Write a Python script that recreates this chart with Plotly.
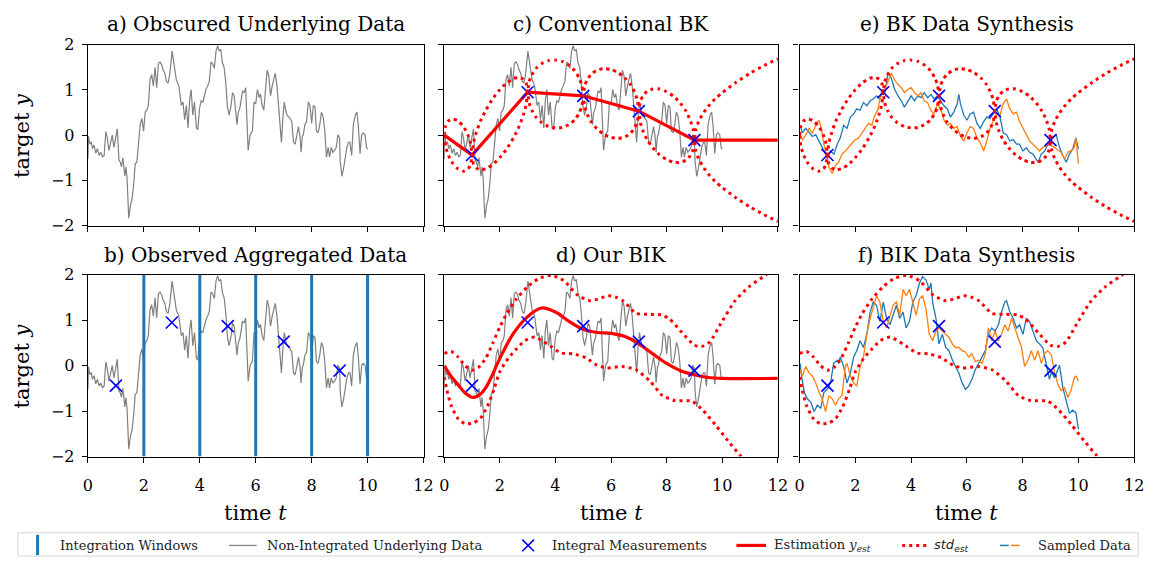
import numpy as np
import plotly.graph_objects as go

W, H = 1160, 568
FONT = "DejaVu Serif"

# ---------------- data ----------------
gray_t = [0.0, 0.02, 0.07, 0.12, 0.16, 0.22, 0.28, 0.34, 0.4, 0.46, 0.52, 0.58, 0.64, 0.69, 0.75, 0.81,
          0.87, 0.93, 0.99, 1.05, 1.11, 1.16, 1.2, 1.25, 1.32, 1.36, 1.4, 1.46, 1.52, 1.58, 1.64, 1.69,
          1.75, 1.81, 1.87, 1.93, 1.99, 2.05, 2.11, 2.16, 2.22, 2.28, 2.34, 2.4, 2.46, 2.52, 2.58, 2.64,
          2.69, 2.75, 2.81, 2.87, 2.93, 3.01, 3.08, 3.16, 3.25, 3.34, 3.4, 3.46, 3.52, 3.58, 3.64, 3.69,
          3.75, 3.81, 3.88, 3.93, 3.99, 4.05, 4.11, 4.16, 4.22, 4.28, 4.34, 4.4, 4.46, 4.52, 4.58, 4.64,
          4.69, 4.75, 4.81, 4.87, 4.93, 4.99, 5.05, 5.12, 5.17, 5.23, 5.29, 5.33, 5.37, 5.44, 5.53, 5.59,
          5.64, 5.68, 5.73, 5.8, 5.88, 5.94, 6.0, 6.06, 6.12, 6.17, 6.23, 6.29, 6.35, 6.41, 6.47, 6.53,
          6.59, 6.64, 6.7, 6.76, 6.82, 6.88, 6.92, 6.97, 7.02, 7.07, 7.12, 7.17, 7.23, 7.29, 7.35, 7.41,
          7.47, 7.53, 7.59, 7.62, 7.67, 7.7, 7.76, 7.82, 7.88, 7.94, 8.0, 8.06, 8.12, 8.17, 8.23, 8.29,
          8.35, 8.41, 8.47, 8.53, 8.59, 8.64, 8.7, 8.76, 8.82, 8.88, 8.94, 9.0, 9.02, 9.08, 9.14, 9.2,
          9.26, 9.32, 9.37, 9.43, 9.49, 9.56, 9.62, 9.67, 9.73, 9.79, 9.84, 9.91, 9.96, 10.0]
gray_y = [-0.52, -0.02, -0.2, -0.15, -0.3, -0.22, -0.4, -0.3, -0.45, -0.38, -0.48, -0.45, 0.08, -0.05, -0.34, -0.15,
          0.0, -0.27, -0.1, 0.14, -0.56, -0.6, -0.7, -0.5, -0.91, -0.7, -0.96, -1.84, -1.56, -1.41, -1.06, -0.63,
          -0.6, -0.2, 0.23, 0.37, 0.09, 0.51, 0.55, 0.66, 1.23, 1.34, 1.09, 1.5, 1.05, 1.59, 1.62, 1.55,
          1.44, 1.37, 1.19, 1.15, 1.37, 1.86, 1.58, 1.23, 1.09, 0.66, 0.73, 0.34, 0.66, 0.16, 0.8, 1.01,
          0.44, 0.73, 0.16, 0.12, 0.59, 0.76, 0.73, 0.87, 1.01, 1.09, 1.19, 1.62, 1.58, 1.48, 1.86, 1.98,
          1.86, 1.9, 1.6, 1.5, 1.16, 0.62, 0.44, 0.66, 0.94, 0.87, 0.51, 0.23, 0.48, 0.62, 0.98, 0.94,
          1.05, 0.3, -0.34, 0.01, 0.09, 0.73, 0.69, 1.01, 0.83, 0.91, 0.66, 0.55, 1.09, 1.44, 1.3, 0.87,
          1.09, 1.23, 1.37, 1.09, 0.59, 0.16, -0.16, 0.37, 0.73, 0.55, 0.44, 0.41, 0.37, 0.3, -0.16, -0.2,
          0.01, 0.19, -0.06, -0.38, -0.02, 0.01, 0.23, 0.3, 0.73, 0.66, 0.26, 0.66, 0.62, 0.09, 0.05, 0.23,
          0.51, 0.41, 0.09, -0.49, -0.27, -0.49, -0.27, -0.38, -0.34, -0.27, 0.01, -0.06, -0.56, -0.91, -0.74, -0.52,
          -0.27, -0.16, -0.16, -0.45, 0.23, 0.44, 0.51, 0.19, -0.41, 0.01, 0.05, 0.01, -0.27, -0.31]

window_t = [2, 4, 6, 8, 10]

meas_t = [1, 3, 5, 7, 9]
meas_y = [-0.44, 0.95, 0.87, 0.53, -0.11]

# conventional BK: piecewise-linear estimate and its standard deviation
bk_knot_t = [0, 1, 3, 5, 7, 9, 12]
bk_knot_y = [0, -0.44, 0.95, 0.87, 0.53, -0.11, -0.11]
bk_std_t = [0, 0.05, 0.15, 0.3, 0.5, 0.7, 0.85, 0.95,
            1, 1.05, 1.15, 1.3, 1.5, 1.75, 2, 2.25, 2.5, 2.7, 2.85, 2.95,
            3, 3.05, 3.15, 3.3, 3.5, 3.75, 4, 4.25, 4.5, 4.7, 4.85, 4.95,
            5, 5.05, 5.15, 5.3, 5.5, 5.75, 6, 6.25, 6.5, 6.7, 6.85, 6.95,
            7, 7.05, 7.15, 7.3, 7.5, 7.75, 8, 8.25, 8.5, 8.7, 8.85, 8.95,
            9, 9.05, 9.15, 9.3, 9.5, 9.75, 10, 10.5, 11, 11.5, 12]
bk_std = [0, 0.23, 0.38, 0.49, 0.53, 0.49, 0.38, 0.23,
          0, 0.23, 0.39, 0.54, 0.65, 0.73, 0.75, 0.73, 0.65, 0.54, 0.39, 0.23,
          0, 0.23, 0.39, 0.54, 0.65, 0.73, 0.75, 0.73, 0.65, 0.54, 0.39, 0.23,
          0, 0.23, 0.39, 0.54, 0.65, 0.73, 0.75, 0.73, 0.65, 0.54, 0.39, 0.23,
          0, 0.23, 0.39, 0.54, 0.65, 0.73, 0.75, 0.73, 0.65, 0.54, 0.39, 0.23,
          0, 0.24, 0.41, 0.58, 0.75, 0.92, 1.05, 1.28, 1.48, 1.65, 1.8]

# our BIK: smooth estimate and its std envelope
bik_t = [0, 0.25, 0.5, 0.75, 1.05, 1.3, 1.5, 1.75, 2.0, 2.5, 3.0, 3.5, 4.0, 4.5, 5.0, 5.5,
         6.0, 6.5, 7.0, 7.5, 8.0, 8.5, 9.0, 9.5, 10.0, 12.0]
bik_y = [0, -0.24, -0.42, -0.6, -0.7, -0.63, -0.48, -0.18, 0.16, 0.72, 1.08, 1.27, 1.18, 0.97, 0.8, 0.73,
         0.71, 0.64, 0.48, 0.26, 0.05, -0.11, -0.2, -0.26, -0.28, -0.28]
bik_up_t = [0.0, 0.25, 0.5, 0.75, 1.0, 1.25, 1.5, 1.75, 2.0, 2.25, 2.6, 3.0, 3.4, 3.85, 4.3, 4.8,
            5.25, 5.6, 5.9, 6.2, 6.45, 6.9, 7.4, 7.8, 8.1, 8.55, 9.0, 9.25, 9.55, 9.95, 10.45, 10.95,
            11.5, 12.0]
bik_up = [0.27, 0.31, 0.19, 0.0, -0.1, -0.03, 0.17, 0.5, 0.85, 1.15, 1.47, 1.74, 1.92, 1.99, 1.87, 1.55,
          1.43, 1.48, 1.54, 1.5, 1.42, 1.15, 1.13, 1.12, 1.03, 0.73, 0.45, 0.42, 0.52, 0.93, 1.42, 1.73,
          1.97, 2.2]
bik_lo_t = [0.0, 0.1, 0.25, 0.5, 0.75, 1.05, 1.3, 1.55, 1.8, 2.0, 2.3, 2.6, 2.9, 3.25, 3.7, 4.2,
            4.65, 5.1, 5.5, 5.85, 6.4, 6.9, 7.4, 7.85, 8.3, 8.9, 9.3, 9.75, 10.2, 10.65, 11.3, 12.0]
bik_lo = [-0.25, -0.55, -0.88, -1.17, -1.28, -1.26, -1.16, -0.9, -0.5, -0.13, 0.16, 0.37, 0.55, 0.63, 0.48, 0.28,
          0.26, 0.17, 0.01, -0.05, -0.02, -0.09, -0.34, -0.66, -0.77, -0.78, -0.98, -1.3, -1.65, -1.98, -2.4, -2.8]

# synthesised samples (BK)
e_blue_t = [0.02, 0.1, 0.22, 0.34, 0.46, 0.58, 0.7, 0.81, 0.93, 1.0, 1.11, 1.23, 1.35, 1.46, 1.58, 1.7,
            1.82, 1.94, 2.05, 2.17, 2.29, 2.41, 2.53, 2.64, 2.76, 2.88, 2.97, 3.06, 3.17, 3.29, 3.41, 3.53,
            3.65, 3.76, 3.88, 4.0, 4.12, 4.24, 4.35, 4.47, 4.59, 4.71, 4.82, 4.94, 5.06, 5.18, 5.3, 5.41,
            5.53, 5.65, 5.71, 5.77, 5.89, 6.0, 6.12, 6.24, 6.36, 6.48, 6.6, 6.71, 6.83, 6.95, 7.07, 7.19,
            7.3, 7.42, 7.54, 7.66, 7.78, 7.89, 8.01, 8.13, 8.25, 8.37, 8.44, 8.55, 8.67, 8.79, 8.91, 9.03,
            9.2, 9.32, 9.44, 9.56, 9.68, 9.79, 9.91, 10.0]
e_blue_y = [0.22, 0.05, 0.15, 0.05, -0.03, 0.01, -0.13, -0.27, -0.42, -0.52, -0.35, -0.42, -0.2, -0.06, 0.22, 0.15,
            0.4, 0.47, 0.58, 0.55, 0.72, 0.65, 0.76, 0.8, 0.87, 0.8, 1.01, 0.94, 1.37, 1.26, 1.01, 0.87,
            0.76, 0.62, 0.76, 0.87, 0.76, 0.87, 0.83, 0.94, 0.83, 0.9, 0.8, 0.87, 0.76, 0.65, 0.58, 0.4,
            0.51, 0.69, 0.9, 0.69, 0.44, 0.33, 0.47, 0.51, 0.26, 0.15, 0.3, 0.4, 0.37, 0.47, 0.58, 0.4,
            0.05, 0.01, -0.13, -0.1, -0.2, -0.2, -0.35, -0.28, -0.38, -0.42, -0.49, -0.6, -0.42, -0.35, -0.2, -0.06,
            0.01, -0.27, -0.45, -0.6, -0.42, -0.31, -0.06, -0.31]
e_orange_t = [0.02, 0.1, 0.22, 0.34, 0.46, 0.58, 0.7, 0.78, 0.87, 0.97, 1.05, 1.17, 1.29, 1.4, 1.52, 1.64,
              1.76, 1.88, 2.0, 2.11, 2.23, 2.35, 2.47, 2.59, 2.7, 2.82, 2.88, 2.97, 3.06, 3.17, 3.29, 3.41,
              3.53, 3.65, 3.76, 3.88, 4.0, 4.12, 4.24, 4.35, 4.47, 4.59, 4.71, 4.82, 4.94, 5.06, 5.18, 5.3,
              5.41, 5.53, 5.65, 5.77, 5.89, 6.0, 6.12, 6.24, 6.36, 6.48, 6.6, 6.71, 6.83, 6.95, 7.07, 7.19,
              7.3, 7.42, 7.54, 7.66, 7.78, 7.89, 8.01, 8.13, 8.25, 8.37, 8.49, 8.6, 8.72, 8.84, 8.91, 9.03,
              9.14, 9.26, 9.38, 9.5, 9.62, 9.73, 9.85, 9.91, 10.0]
e_orange_y = [0.01, -0.1, 0.0, 0.15, 0.04, 0.22, 0.33, 0.15, -0.2, -0.49, -0.7, -0.85, -0.67, -0.6, -0.42, -0.35,
              -0.27, -0.2, -0.1, -0.07, 0.05, 0.15, 0.26, 0.22, 0.44, 0.58, 0.8, 0.94, 1.01, 1.19, 1.37, 1.22,
              1.12, 1.05, 0.94, 1.01, 1.05, 0.94, 0.87, 0.94, 0.76, 0.72, 0.55, 0.47, 0.69, 0.58, 0.33, 0.22,
              0.26, 0.15, 0.19, -0.03, -0.13, 0.05, 0.19, 0.15, -0.06, -0.17, -0.35, -0.13, 0.15, 0.33, 0.47, 0.44,
              0.69, 0.8, 0.58, 0.47, 0.51, 0.3, 0.15, 0.01, -0.13, -0.2, -0.27, -0.35, -0.27, -0.24, -0.2, -0.24,
              -0.27, -0.33, -0.38, -0.53, -0.38, -0.35, -0.27, -0.06, -0.63]

# synthesised samples (BIK)
f_blue_t = [0.02, 0.07, 0.17, 0.28, 0.4, 0.52, 0.64, 0.76, 0.87, 0.99, 1.11, 1.22, 1.35, 1.4, 1.46, 1.58,
            1.7, 1.82, 1.94, 2.05, 2.17, 2.29, 2.41, 2.53, 2.64, 2.76, 2.88, 3.0, 3.12, 3.24, 3.35, 3.47,
            3.59, 3.71, 3.82, 3.94, 4.06, 4.18, 4.3, 4.41, 4.53, 4.65, 4.71, 4.77, 4.89, 5.0, 5.12, 5.24,
            5.36, 5.48, 5.59, 5.71, 5.83, 5.95, 6.06, 6.18, 6.3, 6.42, 6.54, 6.66, 6.77, 6.89, 7.01, 7.13,
            7.24, 7.36, 7.42, 7.54, 7.66, 7.78, 7.89, 8.01, 8.13, 8.25, 8.37, 8.49, 8.6, 8.72, 8.84, 8.96,
            9.03, 9.14, 9.32, 9.44, 9.56, 9.68, 9.79, 9.91, 10.0]
f_blue_y = [0.05, -0.23, -0.59, -0.73, -0.8, -1.01, -0.87, -0.94, -0.59, -0.52, -0.38, 0.05, 0.12, 0.05, 0.19, -0.02,
            -0.38, -0.16, 0.19, 0.33, 0.55, 0.4, 0.69, 1.18, 1.4, 1.33, 0.97, 1.4, 1.04, 0.9, 1.11, 1.33,
            1.04, 1.18, 0.83, 0.97, 1.4, 1.54, 1.82, 1.96, 1.89, 1.68, 1.82, 1.4, 1.04, 0.48, 0.69, 0.4,
            0.33, 0.12, -0.02, -0.16, -0.38, -0.52, -0.45, -0.3, -0.09, 0.05, 0.19, 0.33, 0.69, 0.83, 0.76, 0.9,
            1.18, 1.4, 1.43, 1.18, 1.04, 0.83, 0.9, 0.69, 1.04, 0.97, 0.76, 0.55, 0.48, 0.4, 0.05, -0.3,
            -0.13, -0.27, 0.01, -0.48, -0.77, -1.05, -0.98, -1.04, -1.4]
f_orange_t = [0.02, 0.1, 0.22, 0.34, 0.46, 0.58, 0.7, 0.81, 0.93, 1.05, 1.17, 1.29, 1.4, 1.52, 1.64, 1.7,
              1.82, 1.94, 2.05, 2.17, 2.29, 2.41, 2.53, 2.64, 2.76, 2.88, 3.0, 3.12, 3.24, 3.35, 3.47, 3.59,
              3.71, 3.82, 3.94, 4.06, 4.18, 4.3, 4.41, 4.53, 4.65, 4.77, 4.89, 5.0, 5.12, 5.24, 5.36, 5.48,
              5.59, 5.71, 5.83, 5.95, 6.06, 6.18, 6.3, 6.42, 6.54, 6.66, 6.77, 6.89, 7.01, 7.13, 7.24, 7.36,
              7.48, 7.6, 7.72, 7.84, 7.96, 8.07, 8.19, 8.31, 8.43, 8.55, 8.67, 8.78, 8.9, 9.03, 9.14, 9.26,
              9.38, 9.5, 9.62, 9.73, 9.85, 9.91, 10.0]
f_orange_y = [-0.09, -0.23, -0.02, -0.16, -0.23, -0.38, -0.59, -0.73, -1.01, -0.66, -0.73, -0.87, -0.73, -0.66, -0.02, 0.05,
              -0.23, -0.38, -0.45, -0.02, 0.19, 0.69, 1.04, 1.26, 1.54, 1.4, 0.97, 0.83, 1.11, 1.33, 1.4, 1.11,
              1.68, 1.54, 1.68, 1.4, 1.11, 1.47, 1.54, 1.26, 0.69, 0.55, 0.76, 0.83, 0.76, 0.69, 0.62, 0.48,
              0.4, 0.4, 0.33, 0.3, 0.19, 0.26, 0.09, 0.12, 0.05, 0.26, 0.83, 0.55, 0.76, 0.55, 0.69, 0.9,
              0.76, 1.04, 0.83, 0.62, 0.4, -0.02, 0.12, 0.33, 0.12, 0.33, 0.05, 0.26, 0.33, 0.23, -0.13, -0.41,
              -0.55, -0.48, -0.7, -0.55, -0.27, -0.23, -0.34]

panel_titles = ["a) Obscured Underlying Data", "c) Conventional BK", "e) BK Data Synthesis",
                "b) Observed Aggregated Data", "d) Our BIK", "f) BIK Data Synthesis"]
x_ticks = [0, 2, 4, 6, 8, 10, 12]
y_ticks = [-2, -1, 0, 1, 2]

# ---------------- styles ----------------
GRAY = "#808080"
WIN_BLUE = "#1f77b4"
TAB_ORANGE = "#ff7f0e"
RED = "#ff0000"
DOT = "3px,4px"

# panel boxes in pixels: (left, right, top, bottom)
cols = [(84, 424), (445, 783), (805, 1144)]
rows = [(37, 224), (275, 463)]

fig = go.Figure()

def ax_names(k):
    return ("x" if k == 1 else f"x{k}"), ("y" if k == 1 else f"y{k}")

panels = {}
k = 1
for r in range(2):
    for c in range(3):
        panels[(r, c)] = k
        xl, xr = cols[c]
        yt, yb = rows[r]
        xa, ya = ax_names(k)
        common = dict(showline=True, linecolor="black", linewidth=1.4, mirror=True,
                      ticks="outside", ticklen=5, tickwidth=1.3, tickcolor="black",
                      showgrid=False, zeroline=False,
                      tickfont=dict(family=FONT, size=16, color="black"))
        fig.layout["xaxis" if k == 1 else f"xaxis{k}"] = dict(
            domain=[xl / W, xr / W], anchor=ya, range=[0, 12], ticklabelstandoff=9,
            tickvals=x_ticks, showticklabels=(r == 1), **common)
        fig.layout["yaxis" if k == 1 else f"yaxis{k}"] = dict(
            domain=[1 - yb / H, 1 - yt / H], anchor=xa, range=[-2, 2], ticklabelstandoff=4,
            tickvals=y_ticks, showticklabels=(c == 0), **common)
        k += 1


def add(trace, r, c):
    xa, ya = ax_names(panels[(r, c)])
    trace.update(xaxis=xa, yaxis=ya, showlegend=False)
    fig.add_trace(trace)


def gray_line(r, c):
    add(go.Scatter(x=gray_t, y=gray_y, mode="lines", line=dict(color=GRAY, width=1.2)), r, c)


def meas(r, c):
    add(go.Scatter(x=meas_t, y=meas_y, mode="markers",
                   marker=dict(symbol="x-thin", size=12, line=dict(color="blue", width=1.6))), r, c)


def dotted(t, y, r, c):
    add(go.Scatter(x=t, y=y, mode="lines",
                   line=dict(color=RED, width=3, dash=DOT, shape="spline", smoothing=0.6)), r, c)


bk_center = np.interp(bk_std_t, bk_knot_t, bk_knot_y)
bk_upper = bk_center + np.array(bk_std)
bk_lower = bk_center - np.array(bk_std)

# a) underlying data
gray_line(0, 0)

# b) aggregated observations
gray_line(1, 0)
win_x, win_y = [], []
for t in window_t:
    win_x += [t, t, None]
    win_y += [-2, 2, None]
add(go.Scatter(x=win_x, y=win_y, mode="lines", line=dict(color=WIN_BLUE, width=3)), 1, 0)
meas(1, 0)

# c) conventional BK
gray_line(0, 1)
add(go.Scatter(x=bk_knot_t, y=bk_knot_y, mode="lines", line=dict(color=RED, width=3.2)), 0, 1)
meas(0, 1)
dotted(bk_std_t, bk_upper, 0, 1)
dotted(bk_std_t, bk_lower, 0, 1)

# d) our BIK
gray_line(1, 1)
add(go.Scatter(x=bik_t, y=bik_y, mode="lines",
               line=dict(color=RED, width=3.2, shape="spline", smoothing=1.0)), 1, 1)
meas(1, 1)
dotted(bik_up_t, bik_up, 1, 1)
dotted(bik_lo_t, bik_lo, 1, 1)

# e) BK data synthesis
add(go.Scatter(x=e_blue_t, y=e_blue_y, mode="lines", line=dict(color=WIN_BLUE, width=1.3)), 0, 2)
add(go.Scatter(x=e_orange_t, y=e_orange_y, mode="lines", line=dict(color=TAB_ORANGE, width=1.3)), 0, 2)
meas(0, 2)
dotted(bk_std_t, bk_upper, 0, 2)
dotted(bk_std_t, bk_lower, 0, 2)

# f) BIK data synthesis
add(go.Scatter(x=f_blue_t, y=f_blue_y, mode="lines", line=dict(color=WIN_BLUE, width=1.3)), 1, 2)
add(go.Scatter(x=f_orange_t, y=f_orange_y, mode="lines", line=dict(color=TAB_ORANGE, width=1.3)), 1, 2)
meas(1, 2)
dotted(bik_up_t, bik_up, 1, 2)
dotted(bik_lo_t, bik_lo, 1, 2)

# ---------------- annotations ----------------
ann = []
title_y = [16, 255]
for r in range(2):
    for c in range(3):
        xl, xr = cols[c]
        ann.append(dict(x=(xl + xr) / 2 / W, y=1 - title_y[r] / H, xref="paper", yref="paper",
                        text=panel_titles[r * 3 + c], showarrow=False, xanchor="center", yanchor="middle",
                        font=dict(family=FONT, size=20, color="black")))
for r in range(2):
    yt, yb = rows[r]
    ann.append(dict(x=17 / W, y=1 - (yt + yb) / 2 / H, xref="paper", yref="paper",
                    text="target <i>y</i>", textangle=-90, showarrow=False,
                    xanchor="center", yanchor="middle",
                    font=dict(family=FONT, size=21, color="black")))
for c in range(3):
    xl, xr = cols[c]
    ann.append(dict(x=(xl + xr) / 2 / W, y=1 - 521 / H, xref="paper", yref="paper",
                    text="time <i>t</i>", showarrow=False, xanchor="center", yanchor="middle",
                    font=dict(family=FONT, size=21, color="black")))

# legend drawn as shapes + text
LY = 555
legend_items = [(54, "Integration Windows"), (263, "Non-Integrated Underlying Data"),
                (552, "Integral Measurements"), (777, "Estimation <i>y</i><sub><i>est</i></sub>"),
                (939, "<span style='font-family:DejaVu Sans'><i>std</i><sub><i>est</i></sub></span>"),
                (1044, "Sampled Data")]
for x0, txt in legend_items:
    ann.append(dict(x=x0 / W, y=1 - LY / H, xref="paper", yref="paper", text=txt, showarrow=False,
                    xanchor="left", yanchor="middle", font=dict(family=FONT, size=13, color="#222222")))


def px_line(x0, y0, x1, y1, color, width, dash=None):
    d = dict(type="line", xref="paper", yref="paper", x0=x0 / W, x1=x1 / W, y0=1 - y0 / H, y1=1 - y1 / H,
             line=dict(color=color, width=width))
    if dash:
        d["line"]["dash"] = dash
    return d


shapes = [
    dict(type="rect", xref="paper", yref="paper", x0=13 / W, x1=1148 / W, y0=1 - 566 / H, y1=1 - 542 / H,
         line=dict(color="#d5d5d5", width=1), fillcolor="rgba(255,255,255,0.8)", layer="below"),
    px_line(33, 544, 33, 565, WIN_BLUE, 3),
    px_line(227, LY, 255, LY, GRAY, 1.2),
    px_line(524, LY - 6, 536, LY + 6, "blue", 1.6),
    px_line(524, LY + 6, 536, LY - 6, "blue", 1.6),
    px_line(741, LY, 771, LY, RED, 3.2),
    px_line(909, LY, 937, LY, RED, 3, DOT),
    px_line(1008, LY, 1017, LY, WIN_BLUE, 1.5),
    px_line(1019, LY, 1028, LY, TAB_ORANGE, 1.5),
]

fig.update_layout(width=W, height=H, margin=dict(l=0, r=0, t=0, b=0),
                  paper_bgcolor="white", plot_bgcolor="white",
                  annotations=ann, shapes=shapes, showlegend=False,
                  font=dict(family=FONT, color="black"))

fig.write_html("out.html")
